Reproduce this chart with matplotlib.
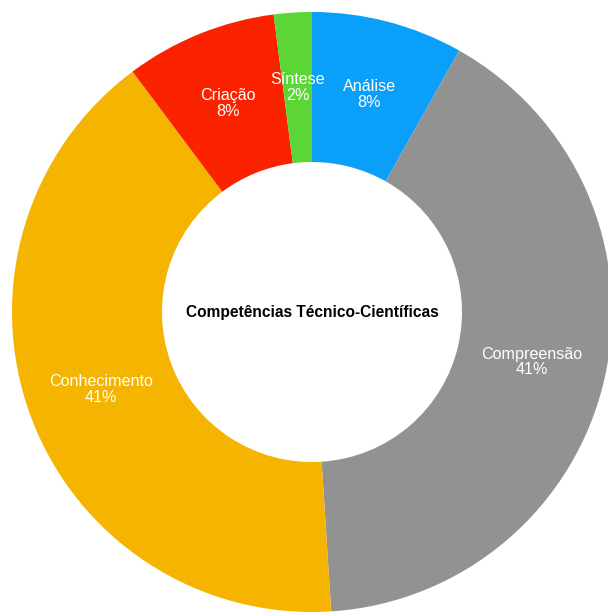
import matplotlib.pyplot as plt

labels = ["Análise", "Compreensão", "Conhecimento", "Criação", "Síntese"]
counts = [4, 20, 20, 4, 1]
colors = ["#0a9ff8", "#929292", "#f4b400", "#fb2200", "#5bd636"]

plt.rcParams['font.family'] = ['Liberation Sans', 'DejaVu Sans']

fig = plt.figure(figsize=(6.08, 6.12), dpi=100)
# donut centre sits at (312, 312) px with a 300 px outer radius
ax = fig.add_axes([12 / 608, 0, 600 / 608, 600 / 612])

total = sum(counts)
wedges, texts = ax.pie(counts, colors=colors, startangle=90, counterclock=False,
                       radius=1.0, wedgeprops=dict(width=0.5, edgecolor="none"),
                       labels=[f"{l}\n{round(c / total * 100)}%" for l, c in zip(labels, counts)],
                       labeldistance=0.75,
                       textprops=dict(color="white", fontsize=11.6, ha="center",
                                      va="center", linespacing=1.05))

ax.text(0, 0, "Competências Técnico-Científicas", ha="center", va="center",
        fontsize=11.2, fontweight="bold", color="black")

ax.set_xlim(-1, 1)
ax.set_ylim(-1, 1)
ax.set_aspect("equal")
ax.axis("off")

fig.savefig("out.png", dpi=100)
